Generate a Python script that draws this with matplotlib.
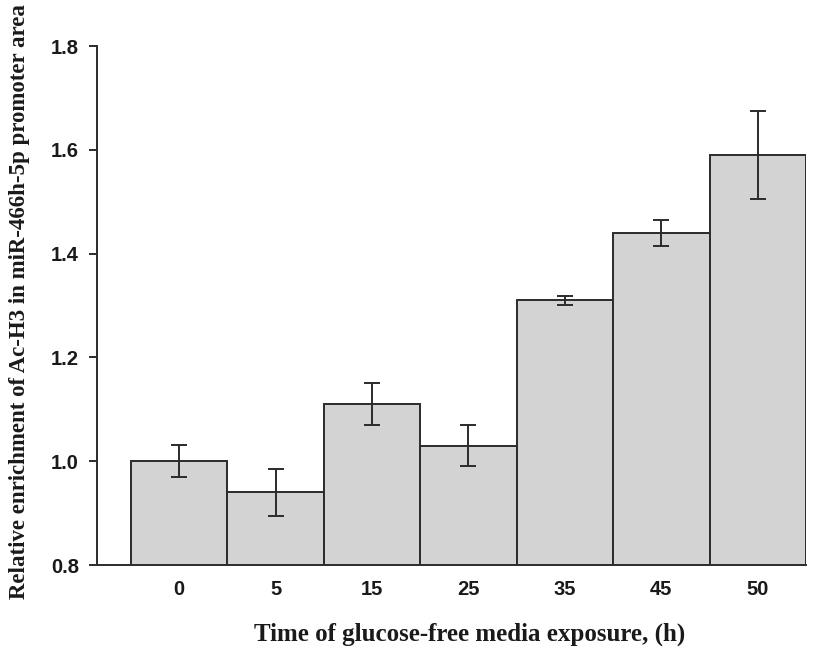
import matplotlib
matplotlib.use("Agg")
import matplotlib.pyplot as plt
import numpy as np

times = ["0", "5", "15", "25", "35", "45", "50"]
enrichment = [1.00, 0.94, 1.11, 1.03, 1.31, 1.44, 1.59]
err = [0.031, 0.045, 0.040, 0.040, 0.009, 0.025, 0.085]

fig = plt.figure(figsize=(8.30, 6.49), dpi=100)
ax = fig.add_axes([0.117, 0.1294, 0.854, 0.7996])

x = np.arange(len(times))
ax.bar(x, enrichment, width=1.0, bottom=0, color="#d3d3d3", edgecolor="#2b2b2b",
       linewidth=1.4, yerr=err, capsize=5.8,
       error_kw=dict(ecolor="#2b2b2b", elinewidth=1.4, capthick=1.4))

ax.set_ylim(0.8, 1.8)
ax.set_xlim(-0.852, 6.5)
ax.set_yticks([0.8, 1.0, 1.2, 1.4, 1.6, 1.8])
ax.set_yticklabels(["0.8", "1.0", "1.2", "1.4", "1.6", "1.8"])
ax.set_xticks(x)
ax.set_xticklabels(times)

for s in ["top", "right"]:
    ax.spines[s].set_visible(False)
for s in ["left", "bottom"]:
    ax.spines[s].set_linewidth(1.4)
    ax.spines[s].set_color("#2b2b2b")

ax.tick_params(axis="y", direction="out", length=6, width=1.4, color="#2b2b2b", pad=7)
ax.tick_params(axis="x", length=0, pad=11)
for lab in ax.get_xticklabels() + ax.get_yticklabels():
    lab.set_fontfamily("Liberation Sans")
    lab.set_fontweight("bold")
    lab.set_fontsize(14.5)
    lab.set_color("#1a1a1a")

ax.set_xlabel("Time of glucose-free media exposure, (h)", fontfamily="Liberation Serif",
              fontweight="bold", fontsize=18, labelpad=17, color="#1a1a1a", x=0.526)
ax.set_ylabel("Relative enrichment of Ac-H3 in miR-466h-5p promoter area",
              fontfamily="Liberation Serif", fontweight="bold", fontsize=16.5,
              color="#1a1a1a")
ax.yaxis.set_label_coords(-0.095, 0.507)

fig.savefig("out.png", dpi=100)
